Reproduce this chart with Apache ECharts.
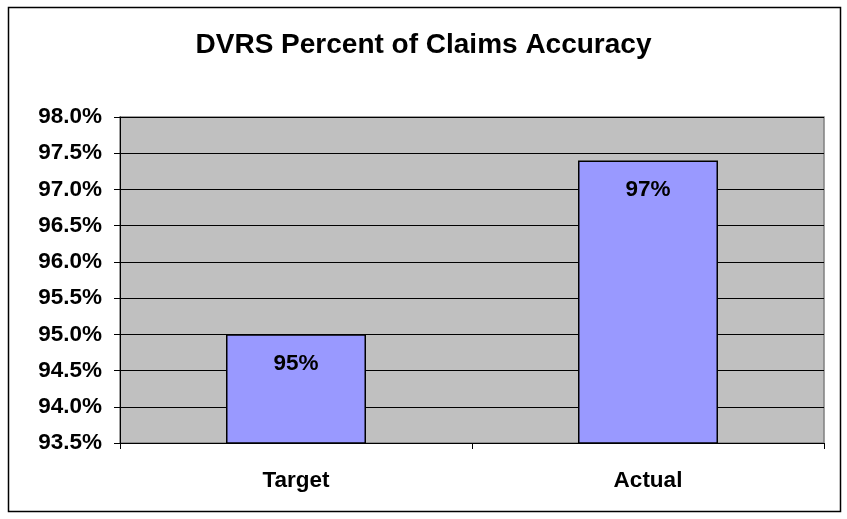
<!DOCTYPE html>
<html>
<head>
<meta charset="utf-8">
<script src="https://cdn.jsdelivr.net/npm/echarts@6/dist/echarts.min.js"></script>
<style>
html,body{margin:0;padding:0;background:#fff;}
#chart{width:847px;height:519px;}
</style>
</head>
<body>
<div id="chart"></div>
<script>
const titleText = 'DVRS Percent of Claims Accuracy';
const categories = ['Target', 'Actual'];
const values = [95.0, 97.4];
const yMin = 93.5, yMax = 98.0, yStep = 0.5;

const chart = echarts.init(document.getElementById('chart'), null, {renderer: 'canvas'});
const font = 'Arial, "Liberation Sans", Helvetica, sans-serif';
chart.setOption({
  animation: false,
  backgroundColor: '#ffffff',
  title: {
    text: titleText,
    left: 'center',
    top: 26,
    textStyle: {fontFamily: font, fontWeight: 'bold', fontSize: 28, color: '#000'}
  },
  graphic: [{
    type: 'rect',
    shape: {x: 8.5, y: 7.5, width: 832, height: 504},
    style: {fill: 'none', stroke: '#000', lineWidth: 1.5},
    silent: true,
    z: 100
  }],
  grid: {
    left: 120, top: 117, right: 23, bottom: 76,
    show: true,
    backgroundColor: '#c0c0c0',
    borderColor: '#808080',
    borderWidth: 1.5
  },
  xAxis: {
    type: 'category',
    data: categories,
    boundaryGap: true,
    axisLine: {show: true, lineStyle: {color: '#000', width: 1}},
    axisTick: {show: true, length: 6, lineStyle: {color: '#000'}},
    axisLabel: {margin: 26, fontFamily: font, fontWeight: 'bold', fontSize: 22.5, color: '#000'}
  },
  yAxis: {
    type: 'value',
    min: yMin, max: yMax, interval: yStep,
    axisLine: {show: true, lineStyle: {color: '#000', width: 1}},
    axisTick: {show: true, length: 6, lineStyle: {color: '#000'}},
    splitLine: {show: true, lineStyle: {color: '#000', width: 1}},
    axisLabel: {
      margin: 18,
      fontFamily: font, fontWeight: 'bold', fontSize: 22.5, color: '#000',
      formatter: v => v.toFixed(1) + '%'
    }
  },
  series: [{
    type: 'bar',
    data: values,
    barWidth: 140,
    itemStyle: {color: '#9999ff', borderColor: '#000', borderWidth: 1.5},
    label: {
      show: true,
      position: 'insideTop',
      distance: 18,
      fontFamily: font, fontWeight: 'bold', fontSize: 22.5, color: '#000',
      formatter: p => Math.round(p.value) + '%'
    }
  }]
});
</script>
</body>
</html>
